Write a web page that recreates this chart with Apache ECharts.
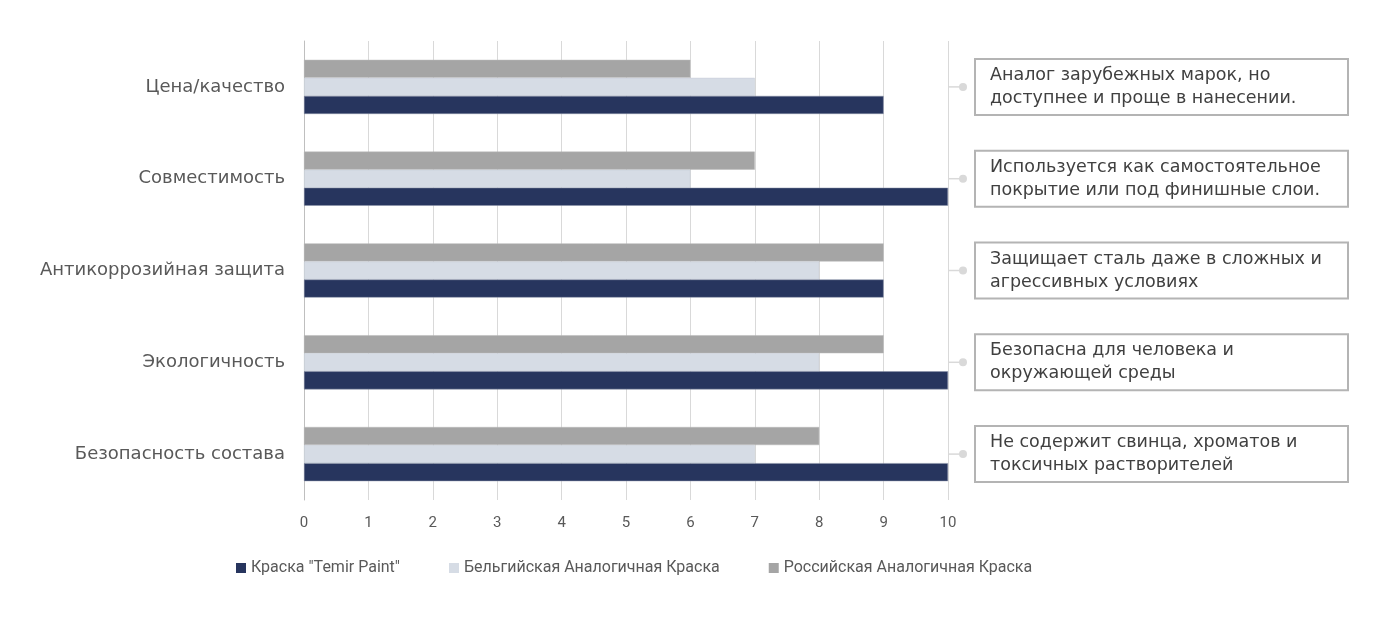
<!DOCTYPE html>
<html>
<head>
<meta charset="utf-8">
<script src="https://cdn.jsdelivr.net/npm/echarts@6/dist/echarts.min.js"></script>
<style>
  html, body { margin: 0; padding: 0; background: #fff; }
  #chart { width: 1390px; height: 618px; }
</style>
</head>
<body>
<div id="chart"></div>
<script>
// категории снизу вверх (ось не перевёрнута)
const categories = ['Безопасность состава', 'Экологичность', 'Антикоррозийная защита', 'Совместимость', 'Цена/качество']
const seriesNames = ['Краска "Temir Paint"', 'Бельгийская Аналогичная Краска', 'Российская Аналогичная Краска']
const temirValues = [10, 10, 9, 10, 9]
const belgianValues = [7, 8, 8, 6, 7]
const russianValues = [8, 9, 9, 7, 6]
const xTicks = [0, 1, 2, 3, 4, 5, 6, 7, 8, 9, 10]
// подписи справа, по категориям
const notes = [
  ['Не содержит свинца, хроматов и', 'токсичных растворителей'],
  ['Безопасна для человека и', 'окружающей среды'],
  ['Защищает сталь даже в сложных и', 'агрессивных условиях'],
  ['Используется как самостоятельное', 'покрытие или под финишные слои.'],
  ['Аналог зарубежных марок, но', 'доступнее и проще в нанесении.']
]
const colors = ['#27355e', '#d6dce5', '#a5a5a5']

const chart = echarts.init(document.getElementById('chart'))
const labelFont = 'Roboto, sans-serif'
const catFont = '"DejaVu Sans", sans-serif'

function barSeries(name, data, color, border) {
  return {
    name: name, type: 'bar', data: data, barGap: '0%', barCategoryGap: '41%',
    itemStyle: { color: color, borderColor: border, borderWidth: 0.5 }
  }
}

const option = {
  animation: false,
  grid: { left: 304, right: 442, top: 41, bottom: 118 },
  legend: {
    left: 231,
    bottom: 37,
    icon: 'rect',
    itemWidth: 10,
    itemHeight: 10,
    itemGap: 49,
    itemStyle: { borderWidth: 0 },
    textStyle: { color: '#595959', fontSize: 16, fontFamily: labelFont },
    data: seriesNames
  },
  xAxis: {
    type: 'value',
    min: xTicks[0],
    max: xTicks[xTicks.length - 1],
    interval: 1,
    axisLine: { show: false },
    axisTick: { show: false },
    axisLabel: { color: '#595959', fontSize: 15, fontFamily: labelFont, margin: 16 },
    splitLine: { lineStyle: { color: '#d9d9d9', width: 1 } }
  },
  yAxis: {
    type: 'category',
    data: categories,
    axisLine: { lineStyle: { color: '#bfbfbf', width: 1 } },
    axisTick: { length: 6, lineStyle: { color: '#bfbfbf' } },
    axisLabel: { color: '#595959', fontSize: 18, fontFamily: catFont, margin: 19 }
  },
  // в v6 первая серия рисуется сверху в группе, поэтому порядок обратный
  series: [
    barSeries(seriesNames[2], russianValues, colors[2], '#b8b8b8'),
    barSeries(seriesNames[1], belgianValues, colors[1], '#c4cad4'),
    barSeries(seriesNames[0], temirValues, colors[0], '#8a92a8')
  ]
}
chart.setOption(option)

// выноски справа: позиции берём с осей
const xEnd = chart.convertToPixel({ xAxisIndex: 0 }, xTicks[xTicks.length - 1])
const elements = []
categories.forEach((c, i) => {
  const cy = chart.convertToPixel({ yAxisIndex: 0 }, c)
  elements.push({
    type: 'line',
    shape: { x1: xEnd, y1: cy, x2: xEnd + 14, y2: cy },
    style: { stroke: '#d9d9d9', lineWidth: 1.5 }
  })
  elements.push({
    type: 'circle',
    shape: { cx: xEnd + 15, cy: cy, r: 4 },
    style: { fill: '#d9d9d9' }
  })
  elements.push({
    type: 'rect',
    shape: { x: xEnd + 27, y: cy - 28, width: 373, height: 56 },
    style: { fill: '#fff', stroke: '#b4b4b4', lineWidth: 2 }
  })
  elements.push({
    type: 'text',
    x: xEnd + 42,
    y: cy,
    style: {
      text: notes[i].join('\n'),
      fill: '#404040',
      font: '17.5px "DejaVu Sans", sans-serif',
      lineHeight: 23,
      verticalAlign: 'middle',
      align: 'left'
    }
  })
})
chart.setOption({ graphic: { elements: elements } })
</script>
</body>
</html>
